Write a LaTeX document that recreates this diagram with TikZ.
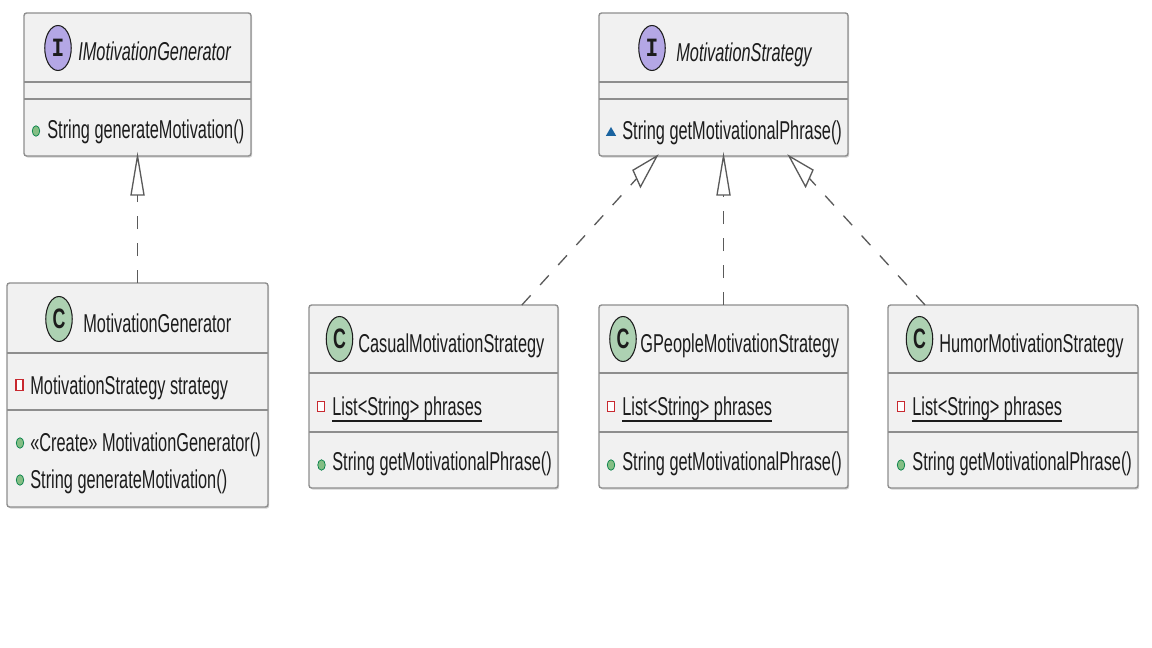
\documentclass[tikz,border=0pt]{standalone}
\usepackage{fontspec}
\newfontfamily\umlfont{Liberation Sans}[FakeStretch=0.632]
\newfontfamily\umlmono{Liberation Mono}[FakeStretch=0.8]
\usetikzlibrary{fit,calc,shapes.geometric,shadows}

\definecolor{boxfill}{HTML}{F1F1F1}
\definecolor{boxline}{HTML}{8E8E8E}
\definecolor{ifacefill}{HTML}{B4A7E5}
\definecolor{classfill}{HTML}{ADD1B2}
\definecolor{pubfill}{HTML}{84BE84}
\definecolor{publine}{HTML}{038048}
\definecolor{privline}{HTML}{C82930}
\definecolor{pkgfill}{HTML}{1963A0}
\definecolor{inkdark}{HTML}{1C1C1C}
\definecolor{edgeink}{HTML}{5A5A5A}

\newcommand{\umlsize}{\fontsize{14.7pt}{17pt}\selectfont}

\tikzset{
  umlbox/.style={draw=boxline, fill=boxfill, line width=0.8pt, rounded corners=1.5pt,
    inner sep=0pt, outer sep=0pt,
    drop shadow={shadow xshift=0.7pt, shadow yshift=-0.9pt, fill=black, opacity=0.18}},
  divider/.style={draw=boxline, line width=0.9pt},
  txt/.style={font=\umlfont\umlsize, text=inkdark, inner sep=0pt, anchor=base west},
  ittxt/.style={txt, font=\umlfont\itshape\umlsize},
  icon/.style={ellipse, draw=inkdark, line width=0.6pt, minimum width=0.53cm,
    minimum height=0.9cm, inner sep=0pt, text=inkdark},
  ifaceicon/.style={icon, fill=ifacefill, font=\umlmono\bfseries\fontsize{15pt}{15pt}\selectfont},
  classicon/.style={icon, fill=classfill, font=\umlfont\bfseries\fontsize{16pt}{16pt}\selectfont},
  pub/.style={ellipse, fill=pubfill, draw=publine, line width=0.4pt,
    minimum width=0.15cm, minimum height=0.21cm, inner sep=0pt},
  priv/.style={rectangle, draw=privline, fill=white, line width=0.75pt,
    minimum width=0.14cm, minimum height=0.21cm, inner sep=0pt},
  pkg/.style={regular polygon, regular polygon sides=3, fill=pkgfill,
    minimum size=0.24cm, inner sep=0pt},
  realize/.style={draw=edgeink, line width=0.75pt, dash pattern=on 0.26cm off 0.28cm},
  openhead/.style={draw=edgeink, fill=white, line width=0.75pt, line join=miter},
  underl/.style={draw=inkdark, line width=0.9pt},
}

\begin{document}
\begin{tikzpicture}[x=0.02cm, y=-0.02cm]
\useasboundingbox (0,0) rectangle (1152,648);

% ---------- interface IMotivationGenerator ----------
\node[umlbox, fit={(24,13) (251,156)}] (imgen) {};
\draw[divider] (24,82) -- (251,82);
\draw[divider] (24,99) -- (251,99);
\node[ifaceicon] (imgen-icon) at (58,48) {I};
\node[ittxt] (imgen-name) at (78,60.5) {IMotivationGenerator};
\node[pub] (imgen-m1-vis) at (36,131) {};
\node[txt] (imgen-m1) at (47,139) {String generateMotivation()};

% ---------- class MotivationGenerator ----------
\node[umlbox, fit={(7,283) (268,507)}] (mgen) {};
\draw[divider] (7,353) -- (268,353);
\draw[divider] (7,410) -- (268,410);
\node[classicon] (mgen-icon) at (59,319) {C};
\node[txt] (mgen-name) at (83,332.7) {MotivationGenerator};
\node[priv] (mgen-f1-vis) at (19.5,385) {};
\node[txt] (mgen-f1) at (30,394) {MotivationStrategy strategy};
\node[pub] (mgen-m1-vis) at (20,443) {};
\node[txt] (mgen-m1) at (30,451) {«Create» MotivationGenerator()};
\node[pub] (mgen-m2-vis) at (20,480) {};
\node[txt] (mgen-m2) at (30,488) {String generateMotivation()};

% ---------- interface MotivationStrategy ----------
\node[umlbox, fit={(599,13) (848,156)}] (mstrat) {};
\draw[divider] (599,82) -- (848,82);
\draw[divider] (599,99) -- (848,99);
\node[ifaceicon] (mstrat-icon) at (652,48) {I};
\node[ittxt] (mstrat-name) at (676,61.5) {MotivationStrategy};
\node[pkg] (mstrat-m1-vis) at (611,133) {};
\node[txt] (mstrat-m1) at (622,140) {String getMotivationalPhrase()};

% ---------- class CasualMotivationStrategy ----------
\node[umlbox, fit={(309,305) (558,488)}] (casual) {};
\draw[divider] (309,373) -- (558,373);
\draw[divider] (309,432) -- (558,432);
\node[classicon] (casual-icon) at (339.5,339) {C};
\node[txt] (casual-name) at (358,353) {CasualMotivationStrategy};
\node[priv] (casual-f1-vis) at (321,406.5) {};
\node[txt] (casual-f1) at (332,415) {List<String> phrases};
\draw[underl] ([yshift=-3.4pt]casual-f1.base west) -- ([yshift=-3.4pt]casual-f1.base east);
\node[pub] (casual-m1-vis) at (321.5,465) {};
\node[txt] (casual-m1) at (332,470) {String getMotivationalPhrase()};

% ---------- class GPeopleMotivationStrategy ----------
\node[umlbox, fit={(599,305) (848,488)}] (gpeople) {};
\draw[divider] (599,373) -- (848,373);
\draw[divider] (599,432) -- (848,432);
\node[classicon] (gpeople-icon) at (623,339) {C};
\node[txt] (gpeople-name) at (640,353) {GPeopleMotivationStrategy};
\node[priv] (gpeople-f1-vis) at (611,406.5) {};
\node[txt] (gpeople-f1) at (622,415) {List<String> phrases};
\draw[underl] ([yshift=-3.4pt]gpeople-f1.base west) -- ([yshift=-3.4pt]gpeople-f1.base east);
\node[pub] (gpeople-m1-vis) at (611,465) {};
\node[txt] (gpeople-m1) at (622,470) {String getMotivationalPhrase()};

% ---------- class HumorMotivationStrategy ----------
\node[umlbox, fit={(888,305) (1138,488)}] (humor) {};
\draw[divider] (888,373) -- (1138,373);
\draw[divider] (888,432) -- (1138,432);
\node[classicon] (humor-icon) at (919.5,339) {C};
\node[txt] (humor-name) at (939,353) {HumorMotivationStrategy};
\node[priv] (humor-f1-vis) at (901,406.5) {};
\node[txt] (humor-f1) at (912,415) {List<String> phrases};
\draw[underl] ([yshift=-3.4pt]humor-f1.base west) -- ([yshift=-3.4pt]humor-f1.base east);
\node[pub] (humor-m1-vis) at (901,465) {};
\node[txt] (humor-m1) at (912,470) {String getMotivationalPhrase()};

% ---------- realizations ----------
% MotivationGenerator implements IMotivationGenerator
\coordinate (tipG) at (imgen.south);
\draw[realize] (mgen.north) -- ($(tipG)+(0,39)$);
\draw[openhead] (tipG) -- ++(-6.5,39) -- ++(13,0) -- cycle;

% GPeopleMotivationStrategy implements MotivationStrategy
\coordinate (tipM) at (mstrat.south);
\draw[realize] (gpeople.north) -- ($(tipM)+(0,39)$);
\draw[openhead] (tipM) -- ++(-6.5,39) -- ++(13,0) -- cycle;

% CasualMotivationStrategy implements MotivationStrategy
\coordinate (tipL) at ($(mstrat.south west)!0.233!(mstrat.south east)$);
\coordinate (tailL) at ($(casual.north west)!0.855!(casual.north east)$);
\draw[realize] (tailL) -- ($(tipL)+(-20.3,22.5)$);
\draw[openhead] (tipL) -- ++(-16.6,30.9) -- ++(-7.4,-16.7) -- cycle;

% HumorMotivationStrategy implements MotivationStrategy
\coordinate (tipR) at ($(mstrat.south west)!0.763!(mstrat.south east)$);
\coordinate (tailR) at ($(humor.north west)!0.148!(humor.north east)$);
\draw[realize] (tailR) -- ($(tipR)+(20.3,22.3)$);
\draw[openhead] (tipR) -- ++(16.6,30.7) -- ++(7.4,-16.7) -- cycle;
\end{tikzpicture}
\end{document}
